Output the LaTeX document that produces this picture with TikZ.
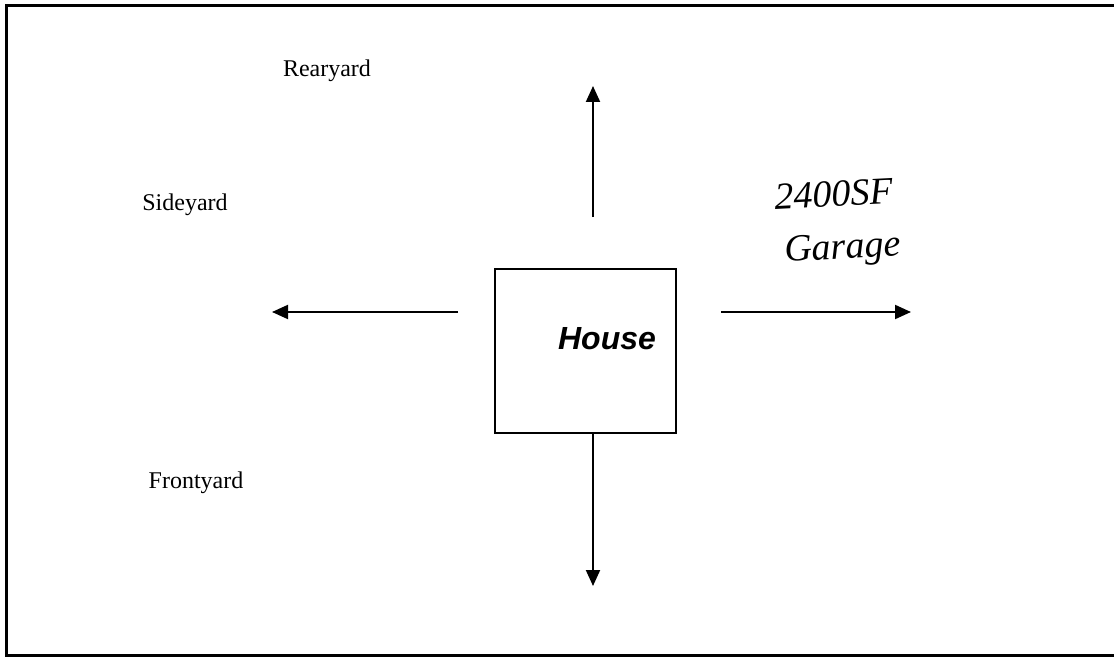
\documentclass[tikz,border=0pt]{standalone}
\usepackage{fontspec}
\setmainfont{Liberation Serif}
\newfontfamily\housefont{Liberation Sans}
\usetikzlibrary{arrows.meta}
\begin{document}
\begin{tikzpicture}[x=1pt,y=-1pt,
  arr/.style={line width=2pt,-{Triangle[length=16pt,width=14pt]}},
  yardlabel/.style={anchor=base,inner sep=0pt,font=\fontsize{24}{26}\selectfont},
  hand/.style={inner sep=0pt,font=\fontsize{38}{40}\selectfont\itshape}]
\useasboundingbox (0,0) rectangle (1114,658);
% frame
\draw[line width=3pt] (1120,6) -- (6,6) -- (6,655) -- (1120,655);
% house
\node[draw,line width=2pt,minimum width=181pt,minimum height=164pt,inner sep=0pt] (house) at (585.5,351) {};
\node[anchor=base,inner sep=0pt,font=\fontsize{32}{34}\selectfont\housefont\bfseries\itshape] (houselabel) at (607,349) {House};
% arrow endpoints
\coordinate (upS) at (593,217);
\coordinate (upE) at (593,86);
\coordinate (dnE) at (593,586);
\coordinate (lfS) at (458,312);
\coordinate (lfE) at (272,312);
\coordinate (rtS) at (721,312);
\coordinate (rtE) at (911,312);
\draw[arr] (upS) -- (upE);
\draw[arr] (house.south -| dnE) -- (dnE);
\draw[arr] (lfS) -- (lfE);
\draw[arr] (rtS) -- (rtE);
% labels
\node[yardlabel] (rear) at (327,77) {Rearyard};
\node[yardlabel] (side) at (185,210) {Sideyard};
\node[yardlabel] (front) at (196,488) {Frontyard};
% handwritten note
\node[hand,rotate=3] (sf) at (834,194) {2400SF};
\node[hand,rotate=3] (garage) at (843,250) {Garage};
\end{tikzpicture}
\end{document}
